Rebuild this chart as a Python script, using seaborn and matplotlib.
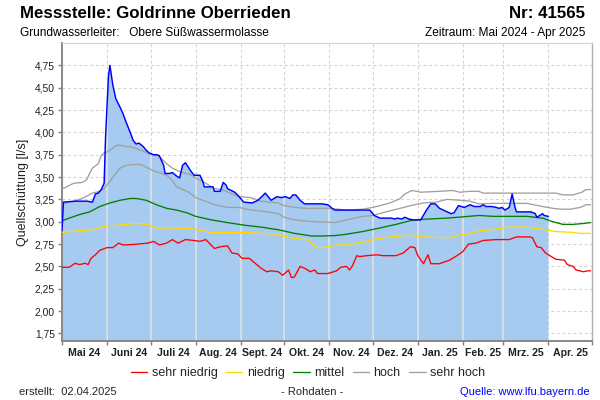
import sys
import matplotlib
matplotlib.use("Agg")
import matplotlib.pyplot as plt
import matplotlib.dates as mdates
from matplotlib.ticker import FixedLocator, FuncFormatter
import numpy as np
import pandas as pd
import seaborn as sns

# ---------------- data ----------------
raw_dates = ["2024-05-01","2024-05-02","2024-05-11","2024-05-18","2024-05-22","2024-05-24","2024-05-26","2024-05-28","2024-05-30","2024-05-31",
             "2024-06-02","2024-06-03","2024-06-05","2024-06-07","2024-06-10","2024-06-12","2024-06-14","2024-06-17","2024-06-19","2024-06-21",
             "2024-06-23","2024-06-26","2024-06-28","2024-06-30","2024-07-03","2024-07-05","2024-07-07","2024-07-10","2024-07-11","2024-07-14",
             "2024-07-16","2024-07-19","2024-07-21","2024-07-23","2024-07-25","2024-07-27","2024-07-29","2024-07-31","2024-08-04","2024-08-06",
             "2024-08-07","2024-08-13","2024-08-14","2024-08-18","2024-08-20","2024-08-22","2024-08-23","2024-08-28","2024-08-31","2024-09-03",
             "2024-09-09","2024-09-13","2024-09-18","2024-09-20","2024-09-22","2024-09-26","2024-09-29","2024-10-02","2024-10-05","2024-10-07",
             "2024-10-09","2024-10-12","2024-10-15","2024-10-27","2024-10-31","2024-11-03","2024-11-05","2024-11-15","2024-11-29","2024-12-02",
             "2024-12-06","2024-12-14","2024-12-16","2024-12-18","2024-12-21","2024-12-23","2024-12-26","2024-12-29","2025-01-03","2025-01-07",
             "2025-01-10","2025-01-13","2025-01-16","2025-01-20","2025-01-24","2025-01-26","2025-01-29","2025-02-02","2025-02-06","2025-02-09",
             "2025-02-13","2025-02-15","2025-02-17","2025-02-21","2025-02-24","2025-02-26","2025-02-28","2025-03-02","2025-03-05","2025-03-07",
             "2025-03-09","2025-03-10","2025-03-20","2025-03-23","2025-03-24","2025-03-26","2025-03-28","2025-03-29","2025-04-01"]
raw_values = [2.90,3.22,3.23,3.23,3.22,3.31,3.32,3.36,3.43,3.95,
              4.63,4.75,4.53,4.38,4.28,4.21,4.12,4.00,3.91,3.87,
              3.88,3.84,3.80,3.77,3.75,3.75,3.74,3.63,3.54,3.54,
              3.55,3.51,3.49,3.63,3.66,3.61,3.56,3.52,3.52,3.45,
              3.39,3.39,3.34,3.34,3.44,3.41,3.37,3.33,3.28,3.22,
              3.21,3.24,3.32,3.28,3.24,3.28,3.27,3.28,3.26,3.30,
              3.30,3.24,3.20,3.20,3.19,3.15,3.13,3.13,3.13,3.07,
              3.04,3.04,3.03,3.04,3.03,3.05,3.03,3.02,3.02,3.13,
              3.20,3.20,3.15,3.12,3.09,3.10,3.18,3.16,3.19,3.17,
              3.17,3.19,3.17,3.17,3.16,3.15,3.16,3.13,3.16,3.31,
              3.16,3.11,3.11,3.09,3.05,3.07,3.09,3.07,3.06]

sehr_hoch_dates = ["2024-05-01","2024-05-09","2024-05-15","2024-05-18","2024-05-20","2024-05-22","2024-05-26","2024-05-28","2024-05-30","2024-06-01",
                   "2024-06-04","2024-06-06","2024-06-09","2024-06-14","2024-06-17","2024-06-21","2024-06-26","2024-06-30","2024-07-07","2024-07-12",
                   "2024-07-16","2024-07-21","2024-07-28","2024-08-01","2024-08-06","2024-08-14","2024-08-19","2024-08-31","2024-09-08","2024-09-15",
                   "2024-09-27","2024-10-01","2024-10-08","2024-10-15","2024-11-01","2024-11-13","2024-11-24","2024-12-01","2024-12-06","2024-12-13",
                   "2024-12-20","2024-12-23","2024-12-28","2025-01-03","2025-01-16","2025-01-25","2025-01-30","2025-02-06","2025-02-12","2025-02-15",
                   "2025-03-05","2025-04-06","2025-04-11","2025-04-18","2025-04-24","2025-04-27","2025-04-30"]
sehr_hoch_values = [3.365,3.43,3.44,3.47,3.54,3.60,3.65,3.74,3.77,3.78,
                    3.81,3.84,3.86,3.84,3.84,3.82,3.79,3.76,3.73,3.65,
                    3.60,3.56,3.53,3.49,3.45,3.37,3.36,3.28,3.27,3.23,
                    3.21,3.18,3.16,3.15,3.15,3.13,3.14,3.16,3.18,3.21,
                    3.26,3.31,3.35,3.33,3.34,3.35,3.33,3.34,3.34,3.32,
                    3.32,3.32,3.30,3.30,3.33,3.36,3.36]

hoch_dates = ["2024-05-01","2024-05-09","2024-05-15","2024-05-22","2024-05-27","2024-05-30","2024-06-03","2024-06-06","2024-06-10","2024-06-14",
              "2024-06-18","2024-06-24","2024-06-28","2024-07-03","2024-07-07","2024-07-12","2024-07-15","2024-07-19","2024-07-22","2024-07-26",
              "2024-07-30","2024-08-01","2024-08-14","2024-08-23","2024-08-31","2024-09-08","2024-09-15","2024-09-27","2024-10-01","2024-10-08",
              "2024-10-15","2024-10-22","2024-11-05","2024-11-13","2024-11-24","2024-12-01","2024-12-10","2024-12-20","2024-12-27","2025-01-05",
              "2025-01-14","2025-01-21","2025-01-30","2025-02-06","2025-02-12","2025-02-22","2025-03-17","2025-03-28","2025-04-04","2025-04-09",
              "2025-04-16","2025-04-23","2025-04-27","2025-04-30"]
hoch_values = [3.20,3.23,3.26,3.32,3.34,3.37,3.45,3.52,3.60,3.63,
               3.64,3.64,3.61,3.57,3.55,3.52,3.48,3.39,3.37,3.34,
               3.30,3.27,3.19,3.16,3.16,3.13,3.12,3.09,3.05,3.02,
               3.01,3.00,2.99,3.02,3.06,3.07,3.11,3.15,3.18,3.21,
               3.22,3.25,3.24,3.23,3.20,3.205,3.205,3.17,3.15,3.14,
               3.14,3.16,3.19,3.19]

mittel_dates = ["2024-05-01","2024-05-06","2024-05-13","2024-05-20","2024-05-27","2024-06-03","2024-06-10","2024-06-17","2024-06-21","2024-06-28",
                "2024-07-05","2024-07-12","2024-07-19","2024-07-26","2024-08-01","2024-08-12","2024-08-23","2024-09-04","2024-09-15","2024-09-27",
                "2024-10-08","2024-10-20","2024-10-27","2024-11-05","2024-11-13","2024-11-24","2024-12-06","2024-12-17","2024-12-29","2025-01-08",
                "2025-01-21","2025-02-05","2025-02-12","2025-02-22","2025-03-17","2025-03-28","2025-04-04","2025-04-11","2025-04-18","2025-04-25",
                "2025-04-30"]
mittel_values = [3.01,3.04,3.08,3.11,3.17,3.21,3.24,3.26,3.26,3.24,
                 3.19,3.15,3.13,3.10,3.06,3.02,2.99,2.96,2.94,2.91,
                 2.87,2.84,2.84,2.845,2.86,2.89,2.93,2.97,3.02,3.03,
                 3.04,3.06,3.07,3.06,3.06,3.04,3.00,2.97,2.97,2.98,
                 2.99]

niedrig_dates = ["2024-05-01","2024-05-13","2024-05-22","2024-05-30","2024-06-07","2024-06-14","2024-06-21","2024-06-29","2024-07-05","2024-07-16",
                 "2024-07-26","2024-08-01","2024-08-12","2024-09-04","2024-09-15","2024-09-27","2024-09-30","2024-10-08","2024-10-17","2024-10-20",
                 "2024-10-24","2024-10-28","2024-11-06","2024-11-13","2024-11-24","2024-12-04","2024-12-13","2024-12-27","2025-01-03","2025-01-23",
                 "2025-01-30","2025-02-06","2025-02-13","2025-02-21","2025-03-05","2025-03-17","2025-03-30","2025-04-06","2025-04-18","2025-04-22",
                 "2025-04-30"]
niedrig_values = [2.88,2.90,2.91,2.95,2.96,2.97,2.98,2.97,2.93,2.93,
                  2.925,2.915,2.88,2.88,2.87,2.86,2.84,2.81,2.80,2.75,
                  2.71,2.71,2.74,2.74,2.77,2.81,2.83,2.85,2.83,2.82,
                  2.85,2.87,2.90,2.91,2.94,2.94,2.91,2.89,2.88,2.87,
                  2.87]

sehr_niedrig_dates = ["2024-05-01","2024-05-06","2024-05-10","2024-05-13","2024-05-17","2024-05-19","2024-05-21","2024-05-24","2024-05-27","2024-06-01",
                      "2024-06-05","2024-06-09","2024-06-12","2024-06-19","2024-06-29","2024-07-03","2024-07-07","2024-07-12","2024-07-16","2024-07-20",
                      "2024-07-25","2024-07-31","2024-08-04","2024-08-08","2024-08-14","2024-08-18","2024-08-23","2024-08-26","2024-08-30","2024-09-02",
                      "2024-09-07","2024-09-11","2024-09-15","2024-09-19","2024-09-22","2024-09-27","2024-09-30","2024-10-04","2024-10-06","2024-10-08",
                      "2024-10-12","2024-10-15","2024-10-19","2024-10-22","2024-10-24","2024-10-31","2024-11-06","2024-11-09","2024-11-13","2024-11-15",
                      "2024-11-17","2024-11-20","2024-11-22","2024-11-27","2024-12-04","2024-12-08","2024-12-17","2024-12-22","2024-12-27","2024-12-30",
                      "2025-01-01","2025-01-05","2025-01-08","2025-01-10","2025-01-16","2025-01-23","2025-01-28","2025-02-01","2025-02-05","2025-02-10",
                      "2025-02-15","2025-02-24","2025-03-05","2025-03-10","2025-03-19","2025-03-21","2025-03-24","2025-03-27","2025-03-30","2025-04-02",
                      "2025-04-06","2025-04-12","2025-04-14","2025-04-18","2025-04-20","2025-04-25","2025-04-28","2025-04-30"]
sehr_niedrig_values = [2.49,2.49,2.535,2.52,2.535,2.52,2.59,2.63,2.68,2.71,
                       2.71,2.76,2.74,2.745,2.76,2.78,2.74,2.76,2.80,2.76,
                       2.80,2.79,2.78,2.80,2.70,2.72,2.73,2.65,2.64,2.59,
                       2.59,2.535,2.48,2.44,2.45,2.44,2.40,2.46,2.375,2.38,
                       2.50,2.48,2.44,2.46,2.42,2.42,2.45,2.49,2.50,2.46,
                       2.505,2.62,2.61,2.62,2.63,2.62,2.62,2.65,2.72,2.71,
                       2.62,2.53,2.63,2.53,2.53,2.57,2.62,2.665,2.75,2.76,
                       2.79,2.80,2.80,2.83,2.83,2.82,2.72,2.71,2.65,2.62,
                       2.58,2.57,2.52,2.50,2.46,2.44,2.45,2.45]

class_labels = ["sehr niedrig", "niedrig", "mittel", "hoch", "sehr hoch"]
class_colors = ["#ff0000", "#ffd800", "#008000", "#a0a0a0", "#a0a0a0"]
month_labels = ["Mai 24", "Juni 24", "Juli 24", "Aug. 24", "Sept. 24", "Okt. 24",
                "Nov. 24", "Dez. 24", "Jan. 25", "Feb. 25", "Mrz. 25", "Apr. 25"]
y_ticks = [1.75, 2.00, 2.25, 2.50, 2.75, 3.00, 3.25, 3.50, 3.75, 4.00, 4.25, 4.50, 4.75]

# ---------------- style ----------------
sns.set_theme(style="white")
plt.rcParams['font.family'] = ['Liberation Sans', 'DejaVu Sans']

fig = plt.figure(figsize=(6, 4), dpi=100)
fig.patch.set_facecolor("white")
ax = fig.add_axes([62/600, 1 - 341/400, 530/600, 298/400])
ax.set_facecolor("white")

x_start = pd.Timestamp("2024-05-01")
x_end = pd.Timestamp("2025-05-01")
ymin, ymax = 1.665, 5.0

# raw series: filled area
raw = pd.DataFrame({"Datum": pd.to_datetime(raw_dates), "Wert": raw_values})
ax.fill_between(raw["Datum"], raw["Wert"], 0.0, color="#a6caf0", lw=0, zorder=1)

# light vertical month lines inside the filled area (up to the raw curve)
month_starts = pd.date_range(x_start, x_end, freq="MS")
inside = month_starts[(month_starts > raw["Datum"].min()) & (month_starts < raw["Datum"].max())]
curve_at = np.interp(mdates.date2num(inside), mdates.date2num(raw["Datum"]), raw["Wert"])
ax.vlines(inside, 0.0, curve_at, colors="#e4e4e4", lw=1.1, zorder=1.5)

# statistical classes
frames = []
for lab, d, v in [("sehr niedrig", sehr_niedrig_dates, sehr_niedrig_values),
                  ("niedrig", niedrig_dates, niedrig_values),
                  ("mittel", mittel_dates, mittel_values),
                  ("hoch", hoch_dates, hoch_values),
                  ("sehr hoch", sehr_hoch_dates, sehr_hoch_values)]:
    frames.append(pd.DataFrame({"Datum": pd.to_datetime(d), "Wert": v, "Klasse": lab}))
stats = pd.concat(frames, ignore_index=True)

sns.lineplot(data=stats, x="Datum", y="Wert", hue="Klasse", hue_order=class_labels,
             palette=dict(zip(class_labels, class_colors)), estimator=None,
             lw=0.95, ax=ax, zorder=3, legend=True)
sns.lineplot(data=raw, x="Datum", y="Wert", color="#0000ff", lw=1.05,
             estimator=None, ax=ax, zorder=4, legend=False)

handles, labels = ax.get_legend_handles_labels()
ax.get_legend().remove()

# ---------------- axes ----------------
ax.set_xlim(x_start, x_end)
ax.set_ylim(ymin, ymax)

ax.xaxis.set_major_locator(mdates.MonthLocator())
ax.xaxis.set_major_formatter(plt.NullFormatter())
centers = month_starts[:-1] + (month_starts[1:] - month_starts[:-1]) / 2
ax.set_xticks(mdates.date2num(centers), labels=month_labels, minor=True)
ax.tick_params(axis="x", which="major", length=3, width=1, color="#808080", direction="out", bottom=True)
ax.tick_params(axis="x", which="minor", length=0, pad=5, labelsize=7.6)
for t in ax.get_xticklabels(minor=True):
    t.set_fontweight("bold")
    t.set_color("#202020")

ax.yaxis.set_major_locator(FixedLocator(y_ticks))
ax.yaxis.set_major_formatter(FuncFormatter(lambda v, _: f"{v:.2f}".replace(".", ",")))
ax.tick_params(axis="y", which="major", length=3, width=1, color="#808080", direction="out",
               left=True, pad=2, labelsize=7.4, labelcolor="#202020")

ax.set_axisbelow(True)
ax.grid(True, which="major", axis="both", color="#d2d2d2", lw=0.8, ls=(0, (2.5, 2.5)))

for side in ["left", "bottom"]:
    ax.spines[side].set_color("#888888")
    ax.spines[side].set_linewidth(1.4)
ax.spines["right"].set_color("#b0b0b0")
ax.spines["right"].set_linewidth(1.0)
ax.spines["top"].set_color("#d4d4d4")
ax.spines["top"].set_linewidth(0.8)

ax.set_xlabel("")
ax.set_ylabel("Quellschüttung [l/s]", fontsize=9, color="#202020")
ax.yaxis.set_label_coords(-0.062, 0.5)

# ---------------- texts ----------------
fig.text(20/600, 1 - 14/400, "Messstelle: Goldrinne Oberrieden", fontsize=12.2,
         fontweight="bold", ha="left", va="center", color="#000000")
fig.text(585/600, 1 - 14/400, "Nr: 41565", fontsize=12.2, fontweight="bold",
         ha="right", va="center", color="#000000")
fig.text(20/600, 1 - 33/400, "Grundwasserleiter:   Obere Süßwassermolasse", fontsize=8.6,
         ha="left", va="center", color="#000000")
fig.text(585/600, 1 - 33/400, "Zeitraum: Mai 2024 - Apr 2025", fontsize=8.6,
         ha="right", va="center", color="#000000")

fig.legend(handles, labels, loc="center", bbox_to_anchor=(308/600, 1 - 373/400), ncol=5,
           frameon=False, fontsize=9, handlelength=1.3, handletextpad=0.35,
           columnspacing=0.7, borderaxespad=0)

fig.text(19/600, 1 - 392/400, "erstellt:  02.04.2025", fontsize=8, ha="left", va="center")
fig.text(312/600, 1 - 392/400, "- Rohdaten -", fontsize=8, ha="center", va="center")
fig.text(590/600, 1 - 392/400, "Quelle: www.lfu.bayern.de", fontsize=8, ha="right",
         va="center", color="#0000ff")

fig.savefig("out.png", dpi=100, facecolor="white")
